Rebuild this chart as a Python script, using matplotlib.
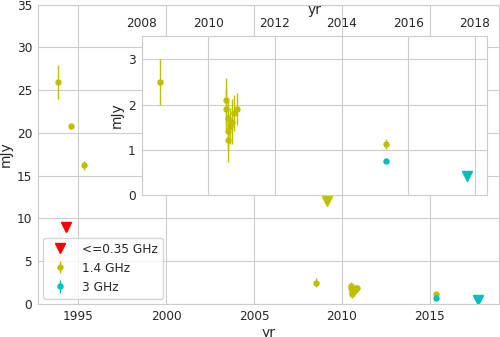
import numpy as np
import matplotlib
matplotlib.use('Agg')
import matplotlib.pyplot as plt
import seaborn as sns

sns.set_style('whitegrid')
plt.rcParams['font.family'] = ['DejaVu Sans']

# <=0.35 GHz upper limits
yr_low_lim = [1994.32]
flux_low_lim = [9.0]

# 1.4 GHz detections
yr_14 = [1993.86, 1994.62, 1995.32, 2008.55, 2010.53, 2010.54, 2010.58, 2010.58,
         2010.58, 2010.66, 2010.72, 2010.78, 2010.85, 2015.33]
flux_14 = [26.0, 20.8, 16.2, 2.5, 2.10, 1.90, 1.70, 1.42, 1.22, 1.53, 1.62, 1.81,
           1.91, 1.13]
err_14 = [2.0, 0.3, 0.5, 0.5, 0.5, 0.45, 0.45, 0.4, 0.5, 0.4, 0.5, 0.4, 0.35, 0.12]
# 1.4 GHz upper limits
yr_14_lim = [2009.13]
flux_14_lim = [12.1]

# 3 GHz detections and limits
yr_3 = [2015.33]
flux_3 = [0.75]
err_3 = [0.03]
yr_3_lim = [2017.75]
flux_3_lim = [0.42]

tick_fs = 8.7
label_fs = 10
ms_dot = 3.6
ms_lim = 6.5


def draw(ax, legend=False):
    ax.plot(yr_low_lim, flux_low_lim, 'v', color='r', ms=ms_lim, label='<=0.35 GHz')
    ax.errorbar(yr_14, flux_14, yerr=err_14, fmt='o', color='y', ms=ms_dot,
                elinewidth=1, label='1.4 GHz')
    ax.plot(yr_14_lim, flux_14_lim, 'v', color='y', ms=ms_lim)
    ax.errorbar(yr_3, flux_3, yerr=err_3, fmt='o', color='c', ms=ms_dot,
                elinewidth=1, label='3 GHz')
    ax.plot(yr_3_lim, flux_3_lim, 'v', color='c', ms=ms_lim)
    ax.tick_params(labelsize=tick_fs, colors='.15', length=0, pad=4.3)
    ax.set_xlabel('yr', fontsize=label_fs, color='.15', labelpad=2)
    ax.set_ylabel('mJy', fontsize=label_fs, color='.15', labelpad=3)
    if legend:
        ax.legend(loc='lower left', fontsize=tick_fs, borderaxespad=0.45)


fig = plt.figure(figsize=(5, 3.37), dpi=100)
ax = fig.add_axes([0.076, 0.098, 0.922, 0.888])
draw(ax, legend=True)
ax.set_xlim(1992.73, 2018.92)
ax.set_ylim(0, 35)
ax.set_xticks([1995, 2000, 2005, 2010, 2015])

# zoom on the recent epochs
axin = fig.add_axes([0.283, 0.4214, 0.691, 0.4718])
draw(axin)
axin.set_xlim(2008.01, 2018.36)
axin.set_ylim(0, 3.52)
axin.set_xticks([2008, 2010, 2012, 2014, 2016, 2018])
axin.set_yticks([0, 1, 2, 3])
axin.xaxis.tick_top()
axin.xaxis.set_label_position('top')

fig.savefig('out.png', dpi=100)
